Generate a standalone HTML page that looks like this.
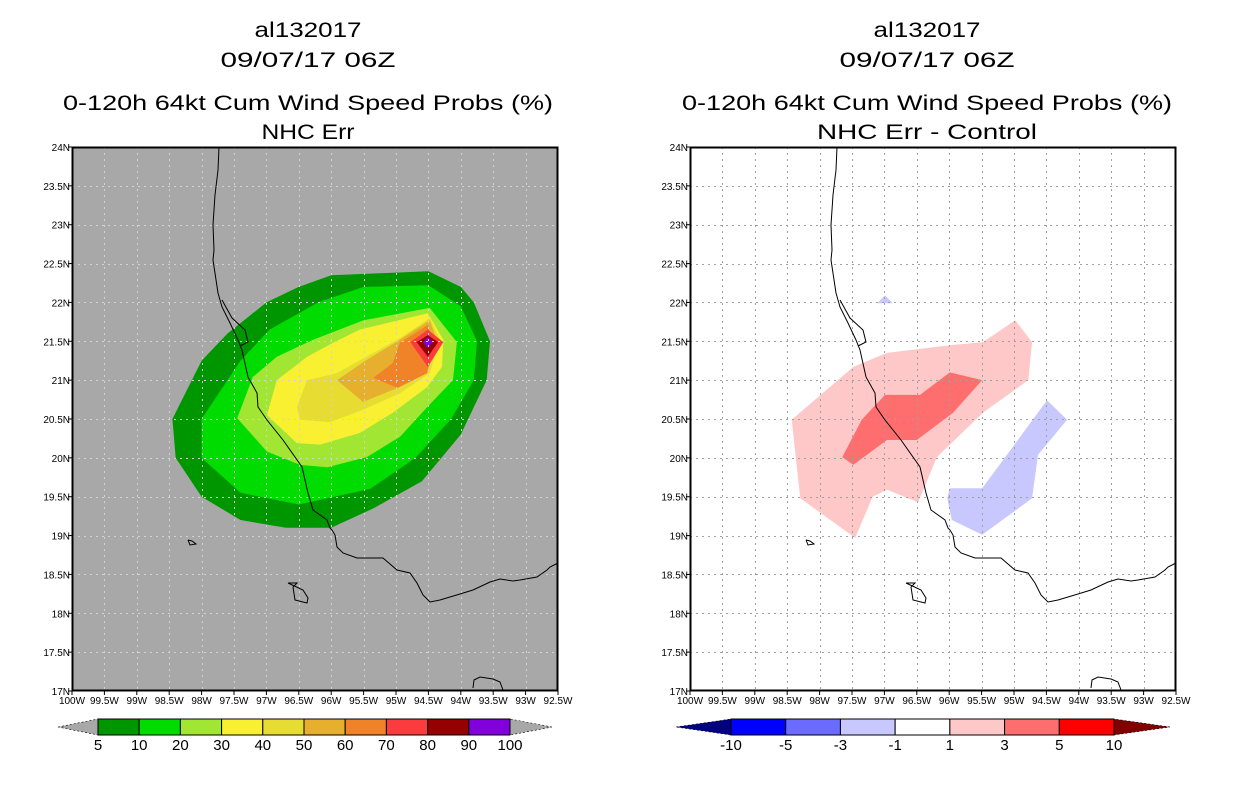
<!DOCTYPE html>
<html><head><meta charset="utf-8">
<style>
html,body{margin:0;padding:0;background:#fff;}
body{width:1236px;height:800px;overflow:hidden;font-family:"Liberation Sans",sans-serif;}
svg text{font-family:"Liberation Sans",sans-serif;}
</style></head>
<body>
<svg id="chart" width="1236" height="800" viewBox="0 0 1236 800" xmlns="http://www.w3.org/2000/svg">
<g font-size="21" text-anchor="middle" fill="#000">
<text x="308" y="37" textLength="107" lengthAdjust="spacingAndGlyphs">al132017</text>
<text x="308" y="67" textLength="175" lengthAdjust="spacingAndGlyphs">09/07/17 06Z</text>
<text x="308" y="110" textLength="490" lengthAdjust="spacingAndGlyphs">0-120h 64kt Cum Wind Speed Probs (%)</text>
<text x="308" y="139" textLength="93" lengthAdjust="spacingAndGlyphs">NHC Err</text>
</g>
<g font-size="21" text-anchor="middle" fill="#000">
<text x="927" y="37" textLength="107" lengthAdjust="spacingAndGlyphs">al132017</text>
<text x="927" y="67" textLength="175" lengthAdjust="spacingAndGlyphs">09/07/17 06Z</text>
<text x="927" y="110" textLength="490" lengthAdjust="spacingAndGlyphs">0-120h 64kt Cum Wind Speed Probs (%)</text>
<text x="927" y="139" textLength="220" lengthAdjust="spacingAndGlyphs">NHC Err - Control</text>
</g>
<g id="left"></g>
<g id="right"></g>
<g id="cbars"></g>
</svg>
<script>
// axis ranges
const lonRange = [-100, -92.5];
const latRange = [17, 24];
const lonTicks = [-100,-99.5,-99,-98.5,-98,-97.5,-97,-96.5,-96,-95.5,-95,-94.5,-94,-93.5,-93,-92.5];
const latTicks = [17,17.5,18,18.5,19,19.5,20,20.5,21,21.5,22,22.5,23,23.5,24];
// left panel contour levels and colors
const probLevels = [5,10,20,30,40,50,60,70,80,90,100];
const probColors = ["#009600","#00dc00","#a0e632","#faf032","#e6dc32","#e6af2d","#f08228","#fa3c3c","#960000","#8200dc"];
const prob5 = [[-96,22.35],[-94.5,22.4],[-94,22.2],[-93.8,22.0],[-93.55,21.5],[-93.6,21.0],[-94,20.3],[-94.6,19.7],[-95.35,19.35],[-96,19.1],[-96.7,19.1],[-97.4,19.2],[-98,19.5],[-98.4,20.0],[-98.45,20.5],[-98,21.25],[-97.6,21.6],[-97,22.0],[-96.5,22.2]];
const prob10 = [[-95.5,22.2],[-94.5,22.22],[-94,21.95],[-93.75,21.5],[-93.8,21.0],[-94.15,20.5],[-94.7,20.0],[-95.4,19.6],[-96.5,19.4],[-97.4,19.55],[-98,20.0],[-98,20.5],[-97.4,21.25],[-96.95,21.65],[-96.2,22.0]];
const prob20 = [[-95.5,21.77],[-94.48,21.93],[-94.06,21.49],[-94.12,21.0],[-94.52,20.65],[-94.94,20.27],[-95.45,20.01],[-96.06,19.88],[-96.48,19.91],[-96.99,20.08],[-97.45,20.51],[-97.21,21.04],[-96.84,21.3],[-96.28,21.52]];
const prob30 = [[-95.56,21.65],[-94.51,21.86],[-94.27,21.52],[-94.29,21.17],[-94.52,20.91],[-95.05,20.58],[-95.56,20.32],[-96.17,20.17],[-96.53,20.19],[-96.99,20.55],[-96.84,21.0],[-96.37,21.3],[-95.97,21.48]];
const prob40 = [[-94.94,21.54],[-94.48,21.8],[-94.32,21.52],[-94.48,21.09],[-94.94,20.83],[-95.51,20.62],[-96.02,20.46],[-96.48,20.49],[-96.53,20.65],[-96.37,21.0],[-95.91,21.09]];
const prob50 = [[-94.94,21.52],[-94.48,21.77],[-94.37,21.52],[-94.52,21.09],[-94.94,20.91],[-95.51,20.72],[-95.91,21.0],[-95.45,21.26]];
const prob60 = [[-94.94,21.48],[-94.51,21.71],[-94.43,21.48],[-94.52,21.09],[-94.98,20.9],[-95.35,21.03],[-95.05,21.22]];
const prob70 = [[-94.78,21.49],[-94.51,21.65],[-94.27,21.49],[-94.51,21.17]];
const prob80 = [[-94.68,21.49],[-94.51,21.58],[-94.35,21.49],[-94.51,21.3]];
const prob90 = [[-94.58,21.49],[-94.51,21.56],[-94.43,21.49],[-94.51,21.41]];
// right panel difference contours
const diffLevels = [-10,-5,-3,-1,1,3,5,10];
const diffColors = ["#0000ff","#6b6bff","#c8c8ff","#ffffff","#ffc8c8","#ff6e6e","#ff0000"];
const diffPos1 = [[-94.98,21.77],[-94.72,21.49],[-94.78,21.0],[-95.48,20.58],[-96.19,20.01],[-96.48,19.43],[-96.96,19.59],[-97.18,19.5],[-97.45,18.97],[-98.3,19.48],[-98.43,20.49],[-97.48,21.17],[-96.96,21.35],[-95.99,21.45],[-95.48,21.49]];
const diffPos3 = [[-95.99,21.1],[-95.49,21.0],[-95.94,20.58],[-96.5,20.23],[-96.96,20.23],[-97.48,19.91],[-97.65,20.01],[-97.35,20.49],[-96.99,20.81],[-96.45,20.81]];
const diffNeg1a = [[-94.49,20.74],[-94.18,20.49],[-94.63,20.04],[-94.72,19.48],[-95.49,19.01],[-95.96,19.2],[-96.03,19.48],[-95.99,19.61],[-95.49,19.61],[-95.02,20.14]];
const diffNeg1b = [[-97.11,21.99],[-96.99,22.09],[-96.87,21.99]];

const NS="http://www.w3.org/2000/svg";
const PY0=147, PY1=691, PW=486;
function mk(tag, attrs, parent){const e=document.createElementNS(NS,tag);for(const k in attrs)e.setAttribute(k,attrs[k]);parent.appendChild(e);return e;}
function xS(x0,lon){return x0+(lon-lonRange[0])/(lonRange[1]-lonRange[0])*PW;}
function yS(lat){return PY1-(lat-latRange[0])/(latRange[1]-latRange[0])*(PY1-PY0);}
function poly(x0,pts){return pts.map(p=>xS(x0,p[0]).toFixed(1)+","+yS(p[1]).toFixed(1)).join(" ");}
function fmtLon(v){return Math.abs(v)+"W";}
function fmtLat(v){return v+"N";}

// coastline (map background, pixel coords for left panel)
const coast=[[219,147],[218,170],[215,195],[213,225],[214,250],[213,260],[218,293],[222,307],[230,323],[238,340],[242,350],[248,377],[257,393],[258,407],[267,420],[283,440],[302,467],[308,493],[313,510],[327,520],[330,528],[332,530],[335,535],[337,547],[343,553],[357,558],[383,558],[397,570],[410,573],[417,583],[423,595],[430,602],[440,600],[460,594],[473,590],[490,582],[500,579],[513,581],[520,580],[537,577],[547,570],[550,567],[558,563]];
const lagoon=[[222,300],[232,318],[245,330],[248,342],[240,346]];
const island1=[[288,583],[297,583],[293,587],[295,600],[307,603],[308,598],[303,590],[288,583]];
const island2=[[188,540],[192,541],[196,544],[190,545],[188,540]];
const island3=[[473,688],[474,680],[480,677],[493,679],[500,682],[503,690]];

function drawPanel(g,x0,bg,gridCol,layers){
  const r=mk("rect",{x:x0,y:PY0,width:PW,height:PY1-PY0,fill:bg},g);
  
  
  layers.forEach(L=>{
    const p=mk("polygon",{points:poly(x0,L.pts),fill:L.color},g);
    
    
  });
  const gg=mk("g",{stroke:gridCol,"stroke-width":1,"stroke-dasharray":"2,4"},g);
  
  
  lonTicks.slice(1,-1).forEach(v=>{const x=Math.round(xS(x0,v))+0.5;mk("line",{x1:x,x2:x,y1:PY0,y2:PY1},gg);});
  latTicks.slice(1,-1).forEach(v=>{const y=Math.round(yS(v))+0.5;mk("line",{x1:x0,x2:x0+PW,y1:y,y2:y},gg);});
  const cg=mk("g",{fill:"none",stroke:"#000","stroke-width":1},g);
  
  
  [coast,lagoon,island1,island2,island3].forEach(c=>mk("polyline",{points:c.map(p=>(p[0]+x0-72)+","+p[1]).join(" ")},cg));
  const fr=mk("rect",{x:x0+0.5,y:PY0+0.5,width:PW-1,height:PY1-PY0-1,fill:"none",stroke:"#000","stroke-width":2},g);
  
  
  const tg=mk("g",{"font-size":"10",fill:"#000"},g);
  
  
  lonTicks.forEach(v=>{const x=xS(x0,v);mk("line",{x1:x,x2:x,y1:PY1,y2:PY1+4,stroke:"#000"},tg);
    const t=mk("text",{x:x,y:PY1+13,"text-anchor":"middle"},tg);t.textContent=fmtLon(v);});
  latTicks.forEach(v=>{const y=yS(v);mk("line",{x1:x0-4,x2:x0,y1:y,y2:y,stroke:"#000"},tg);
    const t=mk("text",{x:x0-2,y:y+4,"text-anchor":"end"},tg);t.textContent=fmtLat(v);});
}
const probSets=[prob5,prob10,prob20,prob30,prob40,prob50,prob60,prob70,prob80,prob90];
drawPanel(document.getElementById("left"),72,"#a8a8a8","#d2d2d2",
  probSets.map((pts,i)=>({pts:pts,color:probColors[i],name:'prob-'+probLevels[i]})));
drawPanel(document.getElementById("right"),690,"#ffffff","#a0a0a0",[
  {pts:diffPos1,color:diffColors[4],name:'diff-plus1'},
  {pts:diffPos3,color:diffColors[5],name:'diff-plus3'},
  {pts:diffNeg1a,color:diffColors[2],name:'diff-minus1-a'},
  {pts:diffNeg1b,color:diffColors[2],name:'diff-minus1-b'}]);

// colorbars
function colorbar(g,x0,x1,y,tipL,tipR,colors,labels,triL,triR,name){
  const cg=mk("g",{},g);
  
  
  const h=16,w=(x1-x0)/colors.length;
  mk("polygon",{points:`${tipL},${y+h/2} ${x0},${y} ${x0},${y+h}`,fill:triL,stroke:"#000","stroke-width":0.6,"stroke-dasharray":"2,2"},cg);
  mk("polygon",{points:`${tipR},${y+h/2} ${x1},${y} ${x1},${y+h}`,fill:triR,stroke:"#000","stroke-width":0.6,"stroke-dasharray":"2,2"},cg);
  colors.forEach((c,i)=>{const b=mk("rect",{x:x0+i*w,y:y,width:w,height:h,fill:c,stroke:"#000","stroke-width":1},cg);
    
    });
  labels.forEach((l,i)=>{const t=mk("text",{x:x0+i*w,y:y+h+15,"text-anchor":"middle","font-size":"15",fill:"#000"},cg);t.textContent=l;});
}
const cb=document.getElementById("cbars");
colorbar(cb,98,510,719,58,552,probColors,probLevels,"#a8a8a8","#a8a8a8","left-colorbar");
colorbar(cb,731,1114,719,676,1170,diffColors,diffLevels,"#000080","#800000","right-colorbar");
</script>
</body></html>
